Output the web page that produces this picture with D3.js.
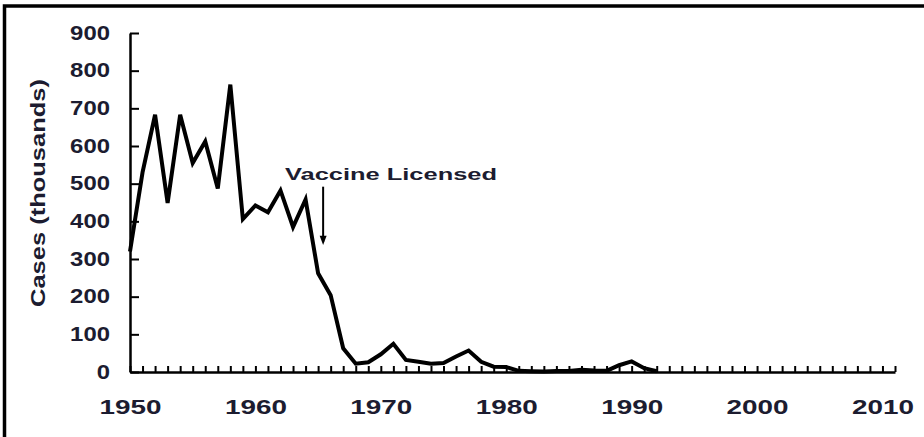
<!DOCTYPE html>
<html>
<head>
<meta charset="utf-8">
<script src="https://cdn.jsdelivr.net/npm/d3@7"></script>
<style>
  body { margin: 0; background: #fff; }
  svg { display: block; font-family: "Liberation Sans", Arial, sans-serif; }
</style>
</head>
<body>
<svg class="Chart"></svg>
<script>
/* Data (cases in thousands) */
const years = [1950, 1951, 1952, 1953, 1954, 1955, 1956, 1957, 1958, 1959,
               1960, 1961, 1962, 1963, 1964, 1965, 1966, 1967, 1968, 1969,
               1970, 1971, 1972, 1973, 1974, 1975, 1976, 1977, 1978, 1979,
               1980, 1981, 1982, 1983, 1984, 1985, 1986, 1987, 1988, 1989,
               1990, 1991, 1992];
const cases = [320, 530, 683, 449, 683, 555, 612, 487, 763, 406,
               442, 424, 482, 385, 458, 262, 204, 63, 22, 26,
               47, 75, 32, 27, 22, 24, 41, 57, 27, 14,
               13, 3, 2, 1.5, 2.6, 2.8, 6, 4, 3, 18,
               28, 10, 2];
const yTicks = [0, 100, 200, 300, 400, 500, 600, 700, 800, 900];
const xLabels = [1950, 1960, 1970, 1980, 1990, 2000, 2010];
const yTitle = "Cases (thousands)";
const note = "Vaccine Licensed";
const noteYear = 1965.4;

function visualize() {
  const width = 924;
  const height = 437;
  const ink = "#1c1c30";
  const svg = d3.select('.Chart')
    .attr('width', width)
    .attr('height', height);

  svg.append('rect').attr('width', width).attr('height', height).attr('fill', '#fff');

  // frame
  svg.append('path')
    .attr('d', `M4.5,${height} V6 H${width}`)
    .attr('fill', 'none')
    .attr('stroke', '#000')
    .attr('stroke-width', 3.5);

  const x = d3.scaleLinear().domain([1950, 2011]).range([130, 895]);
  const y = d3.scaleLinear().domain([0, 900]).range([372, 33]);

  // y axis, ticks pointing inward
  const yAxis = svg.append('g')
    .attr('transform', `translate(${x(1950)},0)`)
    .call(d3.axisLeft(y).tickValues(yTicks).tickSize(-9).tickSizeOuter(0).tickPadding(20));

  // x axis, one small tick per year
  const xAxis = svg.append('g')
    .attr('transform', `translate(0,${y(0)})`)
    .call(d3.axisBottom(x).tickValues(d3.range(1950, 2012)).tickSize(-6).tickSizeOuter(0)
      .tickFormat(d => xLabels.includes(d) ? d : "").tickPadding(28));

  [yAxis, xAxis].forEach(g => {
    g.select('.domain').attr('stroke', '#000').attr('stroke-width', 2.5);
    g.selectAll('.tick line').attr('stroke', '#000').attr('stroke-width', 2);
    g.selectAll('.tick text')
      .attr('fill', ink)
      .attr('font-size', 19.5)
      .attr('font-weight', 'bold')
      .attr('lengthAdjust', 'spacingAndGlyphs');
  });
  yAxis.selectAll('.tick text').attr('textLength', d => String(d).length * 13.3);
  xAxis.selectAll('.tick text').filter(d => xLabels.includes(d))
    .attr('textLength', 62);

  // y title
  svg.append('text')
    .attr('transform', `translate(45,193) rotate(-90)`)
    .attr('text-anchor', 'middle')
    .attr('fill', ink)
    .attr('font-size', 20)
    .attr('font-weight', 'bold')
    .attr('textLength', 228)
    .attr('lengthAdjust', 'spacingAndGlyphs')
    .text(yTitle);

  // series
  const line = d3.line()
    .x((d, i) => x(years[i]))
    .y(d => y(d));
  svg.append('path')
    .datum(cases)
    .attr('d', line)
    .attr('fill', 'none')
    .attr('stroke', '#000')
    .attr('stroke-width', 4)
    .attr('stroke-linejoin', 'miter');

  // annotation
  svg.append('text')
    .attr('x', 285)
    .attr('y', 180)
    .attr('fill', ink)
    .attr('font-size', 17)
    .attr('font-weight', 'bold')
    .attr('textLength', 212)
    .attr('lengthAdjust', 'spacingAndGlyphs')
    .text(note);

  const ax = x(noteYear);
  svg.append('line')
    .attr('x1', ax).attr('x2', ax)
    .attr('y1', y(492)).attr('y2', y(345))
    .attr('stroke', '#000').attr('stroke-width', 2);
  svg.append('path')
    .attr('d', `M${ax - 3.5},${y(362)} L${ax + 3.5},${y(362)} L${ax},${y(337)} Z`)
    .attr('fill', '#000');
}

visualize();
</script>
</body>
</html>
